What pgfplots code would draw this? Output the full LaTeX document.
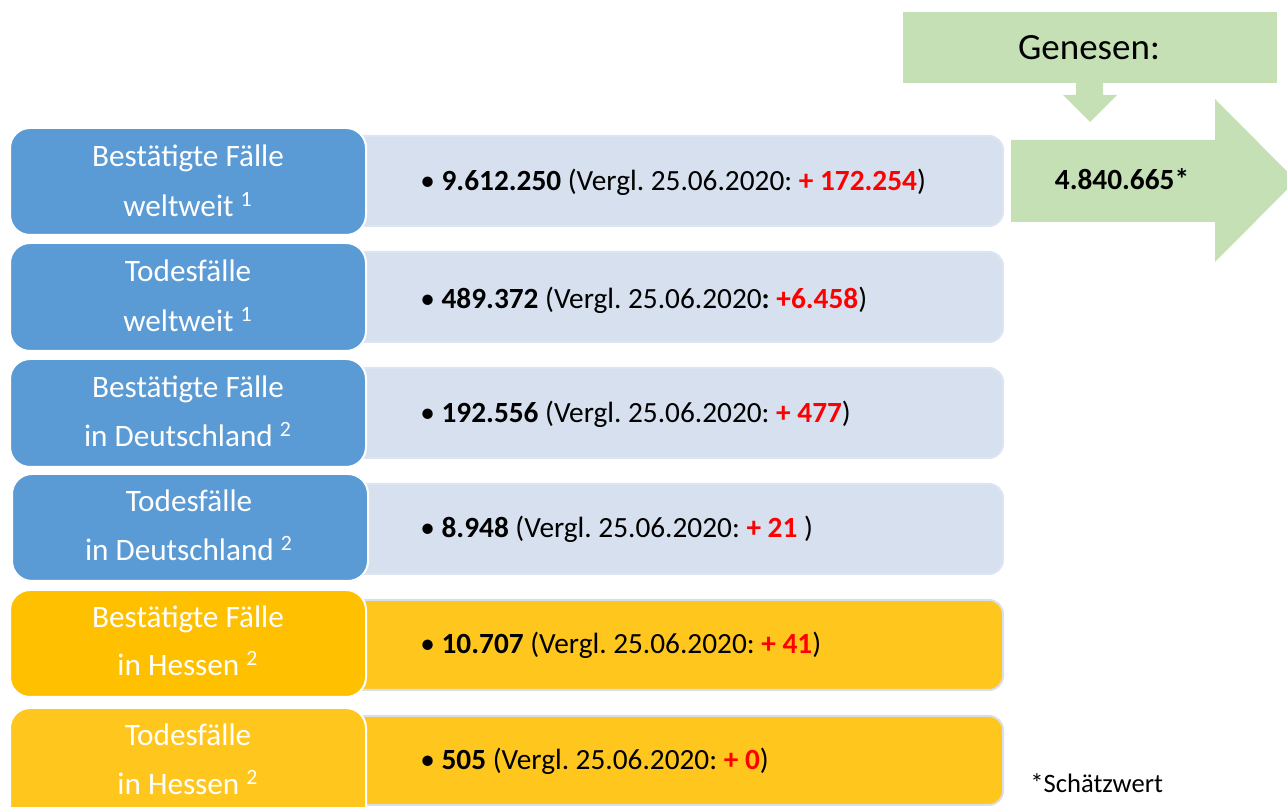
\documentclass[border=0pt]{standalone}
\usepackage{pgfplots}
\pgfplotsset{compat=1.18}
\usepackage{fontspec}
\setmainfont{Carlito}
\frenchspacing
\definecolor{bluebox}{HTML}{5B9BD5}
\definecolor{lightbox}{HTML}{D6E0EE}
\definecolor{lightedge}{HTML}{DCE5F2}
\definecolor{yelA}{HTML}{FFC000}
\definecolor{yelB}{HTML}{FFC61E}
\definecolor{yeledge}{HTML}{D8DFEA}
\definecolor{greenbox}{HTML}{C5E0B4}
\definecolor{redtxt}{HTML}{FF0000}
\newcommand{\lab}{\fontsize{15.6}{18}\selectfont}
\newcommand{\val}{\fontsize{14.65}{17}\selectfont}
\begin{document}
\begin{tikzpicture}
\begin{axis}[scale only axis, width=643.5pt, height=403.5pt,
  xmin=0, xmax=1287, ymin=0, ymax=807, y dir=reverse,
  axis lines=none, clip=true]
% ---- light boxes
\filldraw[fill=lightbox, draw=lightedge, line width=1pt, rounded corners=7pt] (axis cs:340,136) rectangle (axis cs:1003,226);
\filldraw[fill=lightbox, draw=lightedge, line width=1pt, rounded corners=7pt] (axis cs:340,252) rectangle (axis cs:1003,342);
\filldraw[fill=lightbox, draw=lightedge, line width=1pt, rounded corners=7pt] (axis cs:340,368) rectangle (axis cs:1003,458);
\filldraw[fill=lightbox, draw=lightedge, line width=1pt, rounded corners=7pt] (axis cs:340,484) rectangle (axis cs:1003,574);
\filldraw[fill=yelB, draw=yeledge, line width=1pt, rounded corners=7pt] (axis cs:340,600) rectangle (axis cs:1003,690);
\filldraw[fill=yelB, draw=yeledge, line width=1pt, rounded corners=7pt] (axis cs:340,716) rectangle (axis cs:1003,805);
% ---- dark boxes
\filldraw[fill=bluebox, draw=white, line width=1pt, rounded corners=10pt] (axis cs:10,128) rectangle (axis cs:366,235);
\filldraw[fill=bluebox, draw=white, line width=1pt, rounded corners=10pt] (axis cs:10,243) rectangle (axis cs:366,351);
\filldraw[fill=bluebox, draw=white, line width=1pt, rounded corners=10pt] (axis cs:10,359) rectangle (axis cs:366,467);
\filldraw[fill=bluebox, draw=white, line width=1pt, rounded corners=10pt] (axis cs:12,474) rectangle (axis cs:368,581);
\filldraw[fill=yelA, draw=white, line width=1pt, rounded corners=10pt] (axis cs:10,590) rectangle (axis cs:366,697);
\filldraw[fill=yelB, draw=white, line width=1pt, rounded corners=10pt] (axis cs:10,708) rectangle (axis cs:366,830);
% ---- labels
\node[anchor=base, text=white, font=\lab] at (axis cs:188,167) {Bestätigte Fälle};
\node[anchor=base, text=white, font=\lab] at (axis cs:188,217) {weltweit \textsuperscript{1}};
\node[anchor=base, text=white, font=\lab] at (axis cs:188,282) {Todesfälle};
\node[anchor=base, text=white, font=\lab] at (axis cs:188,332) {weltweit \textsuperscript{1}};
\node[anchor=base, text=white, font=\lab] at (axis cs:188,398) {Bestätigte Fälle};
\node[anchor=base, text=white, font=\lab] at (axis cs:188,447) {in Deutschland \textsuperscript{2}};
\node[anchor=base, text=white, font=\lab] at (axis cs:189,512) {Todesfälle};
\node[anchor=base, text=white, font=\lab] at (axis cs:189,561) {in Deutschland \textsuperscript{2}};
\node[anchor=base, text=white, font=\lab] at (axis cs:188,628) {Bestätigte Fälle};
\node[anchor=base, text=white, font=\lab] at (axis cs:188,676) {in Hessen \textsuperscript{2}};
\node[anchor=base, text=white, font=\lab] at (axis cs:188,746) {Todesfälle};
\node[anchor=base, text=white, font=\lab] at (axis cs:188,795) {in Hessen \textsuperscript{2}};
% ---- values
\node[anchor=base west, inner sep=0pt, font=\val] at (axis cs:420,191) {• \textbf{9.612.250} (Vergl. 25.06.2020: \textcolor{redtxt}{\textbf{+ 172.254}})};
\node[anchor=base west, inner sep=0pt, font=\val] at (axis cs:420,309) {• \textbf{489.372} (Vergl. 25.06.2020\textbf{:} \textcolor{redtxt}{\textbf{+6.458}})};
\node[anchor=base west, inner sep=0pt, font=\val] at (axis cs:420,423) {• \textbf{192.556} (Vergl. 25.06.2020: \textcolor{redtxt}{\textbf{+ 477}})};
\node[anchor=base west, inner sep=0pt, font=\val] at (axis cs:420,538) {• \textbf{8.948} (Vergl. 25.06.2020: \textcolor{redtxt}{\textbf{+ 21}} )};
\node[anchor=base west, inner sep=0pt, font=\val] at (axis cs:420,654) {• \textbf{10.707} (Vergl. 25.06.2020: \textcolor{redtxt}{\textbf{+ 41}})};
\node[anchor=base west, inner sep=0pt, font=\val] at (axis cs:420,770) {• \textbf{505} (Vergl. 25.06.2020: \textcolor{redtxt}{\textbf{+ 0}})};
% ---- Genesen
\fill[greenbox] (axis cs:903,12) rectangle (axis cs:1277,83);
\fill[greenbox] (axis cs:1076,82) -- (axis cs:1103,82) -- (axis cs:1103,95) -- (axis cs:1117,95) -- (axis cs:1090,122) -- (axis cs:1063,95) -- (axis cs:1076,95) -- cycle;
\fill[greenbox] (axis cs:1011,140) -- (axis cs:1215,140) -- (axis cs:1215,99) -- (axis cs:1296,180.5) -- (axis cs:1215,262) -- (axis cs:1215,222) -- (axis cs:1011,222) -- cycle;
\node[anchor=base, font=\fontsize{18.5}{22}\selectfont] at (axis cs:1089,60) {Genesen:};
\node[anchor=base, font=\val\bfseries] at (axis cs:1122,190) {4.840.665*};
\node[anchor=base west, inner sep=0pt, font=\fontsize{13.3}{16}\selectfont] at (axis cs:1030,793) {*Schätzwert};
\end{axis}
\pgfresetboundingbox
\path[use as bounding box] (current axis.south west) rectangle (current axis.north east);
\end{tikzpicture}
\end{document}
